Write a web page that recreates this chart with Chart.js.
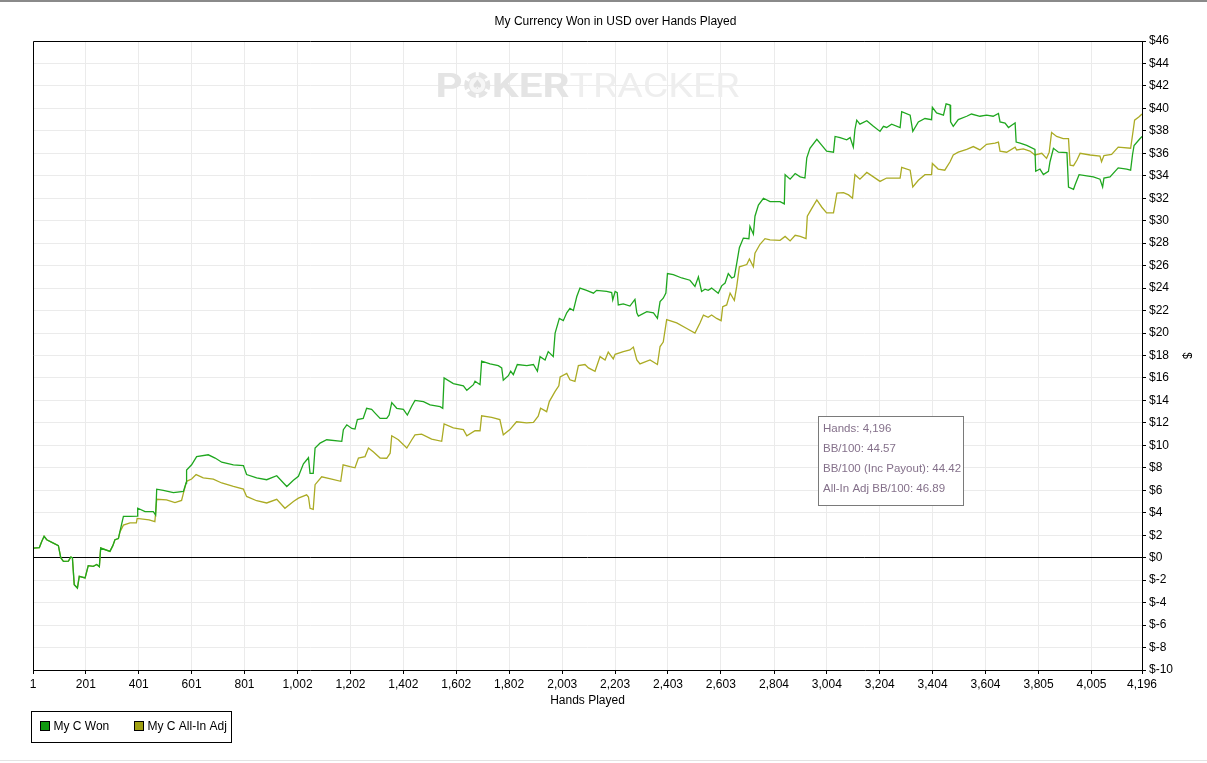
<!DOCTYPE html>
<html>
<head>
<meta charset="utf-8">
<title>My Currency Won in USD over Hands Played</title>
<script src="https://cdn.jsdelivr.net/npm/chart.js@4.4.1/dist/chart.umd.min.js"></script>
<style>
  html, body { margin: 0; padding: 0; background: #fff; }
  #wrap { width: 1207px; height: 763px; position: relative; }
</style>
</head>
<body>
<div id="wrap"><canvas id="graph"></canvas></div>
<script>
// Hands where the x axis is labelled
const handTicks = [1, 201, 401, 601, 801, 1002, 1202, 1402, 1602, 1802, 2003, 2203, 2403, 2603, 2804, 3004, 3204, 3404, 3604, 3805, 4005, 4196];

// y axis: dollars
const yMin = -10;
const yMax = 46;
const yStep = 2;

const seriesNames = ['My C Won', 'My C All-In Adj'];

// [hand, dollars]
const wonSeries = [
  [1, 0], [2, 0.86], [25, 0.9], [34, 1.45], [43, 1.9], [53, 1.6], [78, 1.3], [97, 1.07], [106, 0], [116, -0.33],
  [135, -0.3], [144, 0.06], [150, 0], [157, -2.4], [169, -2.7], [176, -1.66], [198, -1.8], [210, -0.71], [229, -0.77], [242, -0.6],
  [252, -0.8], [257, 0.86], [292, 0.56], [303, 1.07], [311, 1.6], [324, 1.7], [330, 2.34], [343, 3.68], [368, 3.68], [396, 3.7],
  [397, 4.4], [425, 4.1], [456, 4.1], [465, 3.8], [469, 6.1], [494, 6.0], [532, 5.8], [570, 5.9], [580, 6.65], [582, 7.8],
  [601, 8.27], [620, 9.0], [664, 9.16], [690, 8.87], [715, 8.5], [759, 8.27], [797, 8.2], [809, 7.4], [847, 7.1], [885, 6.94],
  [923, 7.3], [961, 6.34], [986, 6.9], [1005, 7.24], [1024, 8.36], [1043, 8.9], [1049, 7.5], [1061, 7.5], [1068, 9.76], [1087, 10.2],
  [1112, 10.5], [1169, 10.36], [1175, 11.4], [1188, 11.83], [1207, 11.5], [1219, 11.45], [1228, 12.3], [1250, 12.4], [1263, 13.3], [1282, 13.2],
  [1295, 12.87], [1314, 12.4], [1339, 12.4], [1348, 12.7], [1358, 13.8], [1377, 13.3], [1402, 13.2], [1417, 12.7], [1434, 13.5], [1446, 14.0],
  [1478, 13.9], [1503, 13.6], [1541, 13.45], [1551, 13.3], [1556, 16.0], [1591, 15.5], [1629, 15.3], [1642, 14.9], [1667, 15.4], [1673, 15.7],
  [1692, 15.4], [1698, 17.5], [1730, 17.26], [1761, 17.1], [1774, 16.9], [1780, 15.8], [1799, 16.2], [1808, 16.6], [1818, 16.3], [1833, 17.2],
  [1869, 17.1], [1894, 17.2], [1909, 16.6], [1919, 17.9], [1938, 17.6], [1950, 18.35], [1969, 17.9], [1976, 20.0], [1992, 21.3], [2007, 21.1],
  [2020, 21.8], [2032, 22.2], [2045, 22.0], [2058, 23.25], [2070, 24.0], [2095, 23.8], [2121, 23.55], [2133, 23.8], [2171, 23.7], [2190, 23.6],
  [2194, 22.95], [2203, 23.7], [2211, 23.6], [2215, 22.5], [2234, 22.6], [2259, 22.4], [2278, 23.0], [2285, 21.8], [2291, 21.5], [2323, 21.9],
  [2348, 21.8], [2363, 21.3], [2373, 22.8], [2385, 23.1], [2395, 23.55], [2401, 25.3], [2423, 25.2], [2455, 24.9], [2486, 24.7], [2505, 24.15],
  [2518, 25.0], [2530, 23.7], [2543, 23.9], [2555, 23.8], [2568, 24.0], [2593, 23.55], [2606, 24.2], [2619, 24.45], [2631, 25.3], [2644, 24.9],
  [2654, 25.0], [2663, 26.2], [2673, 27.6], [2688, 28.45], [2709, 28.4], [2713, 29.5], [2726, 28.8], [2732, 30.4], [2745, 31.4], [2764, 32.0],
  [2789, 31.7], [2827, 31.7], [2843, 31.5], [2846, 34.1], [2865, 33.7], [2884, 34.2], [2903, 33.9], [2921, 33.8], [2928, 35.6], [2940, 36.45],
  [2966, 37.25], [2985, 36.7], [3003, 36.2], [3029, 36.1], [3035, 37.5], [3054, 37.4], [3079, 37.2], [3092, 37.4], [3104, 36.55], [3110, 38.1],
  [3117, 38.95], [3129, 38.6], [3155, 38.9], [3180, 38.4], [3205, 37.95], [3218, 38.4], [3230, 38.3], [3249, 38.6], [3281, 38.3], [3287, 39.7],
  [3319, 39.4], [3329, 37.95], [3350, 38.8], [3375, 39.1], [3400, 39.0], [3403, 40.1], [3419, 39.6], [3445, 39.4], [3455, 40.4], [3470, 40.3],
  [3472, 38.8], [3482, 38.4], [3501, 39.0], [3533, 39.3], [3551, 39.5], [3583, 39.3], [3608, 39.4], [3633, 39.3], [3653, 39.55], [3659, 38.8],
  [3678, 38.7], [3691, 38.3], [3703, 38.5], [3716, 38.7], [3720, 37.0], [3735, 36.9], [3760, 36.7], [3791, 36.35], [3794, 34.4], [3810, 34.6],
  [3823, 34.1], [3842, 34.4], [3848, 35.25], [3861, 36.45], [3880, 36.1], [3912, 36.06], [3918, 33.0], [3937, 32.8], [3943, 33.2], [3958, 34.1],
  [3987, 34.0], [4012, 33.9], [4037, 33.7], [4047, 33.0], [4052, 33.8], [4075, 33.9], [4106, 34.7], [4138, 34.6], [4153, 34.5], [4160, 35.85],
  [4166, 36.7], [4188, 37.3], [4196, 37.5]
];

const adjSeries = [
  [1, 0], [2, 0.86], [25, 0.9], [34, 1.45], [43, 1.9], [53, 1.6], [78, 1.3], [97, 1.07], [106, 0], [116, -0.33],
  [135, -0.3], [144, 0.06], [150, 0], [157, -2.4], [169, -2.7], [176, -1.66], [198, -1.8], [210, -0.71], [229, -0.77], [242, -0.6],
  [252, -0.8], [257, 0.86], [292, 0.56], [303, 1.07], [311, 1.6], [324, 1.7], [330, 2.3], [343, 2.9], [368, 3.1], [392, 3.1],
  [395, 3.5], [440, 3.36], [462, 3.2], [469, 5.2], [506, 5.15], [538, 4.9], [563, 5.1], [570, 5.75], [582, 6.8], [601, 7.0],
  [618, 7.4], [645, 7.1], [683, 7.0], [715, 6.65], [759, 6.34], [797, 6.1], [809, 5.45], [847, 5.07], [885, 4.87], [923, 5.2],
  [954, 4.4], [986, 5.0], [1005, 5.3], [1036, 5.6], [1043, 5.4], [1049, 4.4], [1061, 4.3], [1068, 6.5], [1093, 7.2], [1131, 7.0],
  [1165, 6.8], [1174, 8.27], [1200, 8.1], [1219, 8.0], [1232, 8.87], [1257, 9.0], [1270, 9.76], [1289, 9.4], [1314, 8.87], [1339, 8.85],
  [1352, 9.3], [1358, 10.85], [1383, 10.5], [1415, 9.76], [1434, 10.5], [1446, 10.94], [1471, 11.0], [1509, 10.56], [1547, 10.36], [1556, 11.9],
  [1591, 11.55], [1629, 11.4], [1642, 10.85], [1673, 11.3], [1692, 11.3], [1698, 12.63], [1736, 12.5], [1767, 12.3], [1780, 10.94], [1805, 11.4],
  [1830, 12.1], [1868, 12.0], [1894, 12.05], [1912, 12.6], [1921, 13.3], [1944, 13.0], [1954, 13.9], [1976, 14.8], [1990, 15.3], [1995, 16.1],
  [2020, 16.4], [2032, 15.84], [2051, 15.7], [2064, 17.1], [2089, 17.2], [2102, 16.9], [2127, 16.6], [2146, 17.9], [2165, 17.6], [2177, 18.3],
  [2196, 17.7], [2203, 18.1], [2234, 18.35], [2259, 18.5], [2272, 18.75], [2285, 17.6], [2297, 17.25], [2335, 17.6], [2363, 17.2], [2373, 18.8],
  [2385, 19.2], [2398, 21.2], [2436, 20.9], [2474, 20.4], [2505, 20.0], [2524, 20.9], [2537, 21.6], [2555, 21.4], [2568, 21.6], [2587, 21.3],
  [2604, 21.1], [2610, 22.35], [2625, 22.5], [2638, 23.55], [2654, 22.9], [2663, 24.15], [2673, 25.9], [2701, 26.1], [2711, 26.6], [2726, 25.9],
  [2732, 27.1], [2751, 27.9], [2770, 28.4], [2789, 28.3], [2827, 28.25], [2846, 28.6], [2865, 28.2], [2884, 28.7], [2903, 28.6], [2925, 28.4],
  [2930, 30.4], [2947, 31.1], [2966, 31.85], [2985, 31.2], [3003, 30.7], [3029, 30.7], [3042, 32.45], [3067, 32.5], [3086, 32.3], [3101, 32.0],
  [3110, 34.1], [3129, 33.7], [3155, 34.3], [3180, 33.9], [3205, 33.5], [3230, 33.8], [3249, 33.8], [3281, 33.8], [3287, 34.75], [3319, 34.5],
  [3329, 33.0], [3350, 33.6], [3375, 34.1], [3400, 34.1], [3403, 35.1], [3425, 34.6], [3450, 34.5], [3470, 35.25], [3482, 35.85], [3501, 36.1],
  [3533, 36.35], [3558, 36.6], [3583, 36.3], [3608, 36.8], [3640, 36.9], [3653, 37.0], [3659, 36.2], [3684, 36.1], [3716, 36.55], [3722, 36.3],
  [3747, 36.4], [3772, 36.2], [3791, 35.85], [3817, 36.0], [3835, 35.55], [3845, 36.1], [3854, 37.85], [3873, 37.5], [3898, 37.3], [3918, 37.3],
  [3924, 34.95], [3937, 34.9], [3950, 35.4], [3962, 36.0], [4000, 35.85], [4037, 35.75], [4043, 35.25], [4052, 35.8], [4081, 35.9], [4106, 36.55],
  [4153, 36.45], [4163, 38.1], [4168, 38.95], [4185, 39.26], [4196, 39.5]
];

const statLines = ['Hands: 4,196', 'BB/100: 44.57', 'BB/100 (Inc Payout): 44.42', 'All-In Adj BB/100: 46.89'];

const FONT = '"Liberation Sans", Arial, sans-serif';
const wonColor = '#1fa71f';
const adjColor = '#abab24';

function toPoints(series) {
  return series.map(p => ({ x: p[0], y: p[1] }));
}

// title, watermark, frame, stats box and legend
const decorations = {
  id: 'decorations',
  beforeDatasetsDraw(chart) {
    const { ctx, chartArea: a } = chart;
    const mid = (a.left + a.right) / 2;
    const base = a.top + 56;
    ctx.save();
    ctx.textBaseline = 'alphabetic';
    ctx.font = 'bold 33px Roboto';
    const wP = ctx.measureText('P').width;
    const wO = ctx.measureText('O').width;
    const wPoker = ctx.measureText('POKER').width;
    ctx.font = '33px Roboto';
    const wTracker = ctx.measureText('TRACKER').width;
    const sx1 = 134 / wPoker;
    const sx2 = 170 / wTracker;
    const x0 = mid - 152;

    ctx.save();
    ctx.translate(x0, base);
    ctx.scale(sx1, 1);
    ctx.font = 'bold 33px Roboto';
    ctx.fillStyle = '#e4e4e4';
    ctx.fillText('P', 0, 0);
    ctx.fillText('KER', wP + wO, 0);
    ctx.restore();

    // chip in place of the O
    const cx = x0 + (wP + wO / 2) * sx1;
    const cy = base - 12;
    ctx.fillStyle = '#e4e4e4';
    ctx.beginPath();
    ctx.arc(cx, cy, 13, 0, Math.PI * 2);
    ctx.fill();
    ctx.strokeStyle = '#ffffff';
    ctx.lineWidth = 3;
    for (let i = 0; i < 6; i++) {
      const ang = i * Math.PI / 3 + Math.PI / 6;
      ctx.beginPath();
      ctx.moveTo(cx + Math.cos(ang) * 9, cy + Math.sin(ang) * 9);
      ctx.lineTo(cx + Math.cos(ang) * 14, cy + Math.sin(ang) * 14);
      ctx.stroke();
    }
    ctx.fillStyle = '#f6f6f6';
    ctx.beginPath();
    ctx.arc(cx, cy, 8, 0, Math.PI * 2);
    ctx.fill();
    ctx.fillStyle = '#dedede';
    ctx.font = '13px "DejaVu Sans"';
    ctx.textAlign = 'center';
    ctx.textBaseline = 'middle';
    ctx.fillText('\u2660', cx, cy + 1);

    ctx.save();
    ctx.translate(x0 + 134, base);
    ctx.scale(sx2, 1);
    ctx.font = '33px Roboto';
    ctx.fillStyle = '#eeeeee';
    ctx.textAlign = 'left';
    ctx.textBaseline = 'alphabetic';
    ctx.fillText('TRACKER', 0, 0);
    ctx.restore();
    ctx.restore();
  },
  afterDraw(chart) {
    const { ctx, chartArea: a, width, height } = chart;
    ctx.save();

    // window edges
    ctx.fillStyle = '#8a8a8a';
    ctx.fillRect(0, 0, width, 2);
    ctx.fillStyle = '#e3e3e3';
    ctx.fillRect(0, height - 3, width, 1);

    // frame on the open sides
    ctx.strokeStyle = '#000';
    ctx.lineWidth = 1;
    ctx.beginPath();
    ctx.moveTo(Math.round(a.left) + 0.5, Math.round(a.bottom));
    ctx.lineTo(Math.round(a.left) + 0.5, Math.round(a.top) + 0.5);
    ctx.lineTo(Math.round(a.right), Math.round(a.top) + 0.5);
    ctx.stroke();

    // title
    ctx.fillStyle = '#000';
    ctx.font = '12px ' + FONT;
    ctx.textAlign = 'center';
    ctx.textBaseline = 'middle';
    ctx.fillText('My Currency Won in USD over Hands Played', width / 2 + 12, 22);

    // stats box
    const bx = a.left + 785.5, by = a.top + 375.5;
    ctx.fillStyle = '#ffffff';
    ctx.fillRect(bx, by, 145, 89);
    ctx.strokeStyle = '#7a7a7a';
    ctx.strokeRect(bx, by, 145, 89);
    ctx.fillStyle = '#84708a';
    ctx.font = '11.5px ' + FONT;
    ctx.textAlign = 'left';
    statLines.forEach((t, i) => ctx.fillText(t, bx + 4.5, by + 12.5 + i * 20));

    // legend
    const lx = 31.5, ly = a.bottom + 41.5;
    ctx.strokeStyle = '#000';
    ctx.strokeRect(lx, ly, 200, 31);
    const items = [[seriesNames[0], '#109a10', 9], [seriesNames[1], '#a0a012', 103]];
    ctx.font = '12px ' + FONT;
    items.forEach(([name, col, off]) => {
      ctx.fillStyle = col;
      ctx.fillRect(lx + off, ly + 10, 9, 9);
      ctx.strokeStyle = '#000';
      ctx.strokeRect(lx + off, ly + 10, 9, 9);
      ctx.fillStyle = '#000';
      ctx.fillText(name, lx + off + 13, ly + 15);
    });
    ctx.restore();
  }
};

new Chart(document.getElementById('graph'), {
  type: 'line',
  data: {
    datasets: [
      { label: seriesNames[0], data: toPoints(wonSeries), borderColor: wonColor, borderWidth: 1.3, pointRadius: 0, tension: 0, fill: false },
      { label: seriesNames[1], data: toPoints(adjSeries), borderColor: adjColor, borderWidth: 1.3, pointRadius: 0, tension: 0, fill: false }
    ]
  },
  options: {
    responsive: true,
    maintainAspectRatio: false,
    animation: false,
    events: [],
    layout: { padding: { top: 41, left: 33, right: 0, bottom: 53 } },
    plugins: { legend: { display: false }, title: { display: false }, tooltip: { enabled: false } },
    scales: {
      x: {
        type: 'linear',
        min: handTicks[0],
        max: handTicks[handTicks.length - 1],
        afterBuildTicks: scale => { scale.ticks = handTicks.map(v => ({ value: v })); },
        afterFit: scale => { scale.height = 40; },
        ticks: {
          autoSkip: false, maxRotation: 0, color: '#000', padding: 3,
          font: { family: FONT, size: 12 },
          callback: v => v.toLocaleString('en-US')
        },
        grid: { color: '#ebebeb', tickColor: '#000', tickLength: 4, lineWidth: 1 },
        border: { display: true, color: '#000' },
        title: { display: true, text: 'Hands Played', color: '#000', font: { family: FONT, size: 12 }, padding: { top: 0, bottom: 2 } }
      },
      y: {
        position: 'right',
        min: yMin,
        max: yMax,
        afterFit: scale => { scale.width = 65; },
        ticks: {
          stepSize: yStep, color: '#000', padding: 3,
          font: { family: FONT, size: 12 },
          callback: v => '$' + v
        },
        grid: {
          color: c => (c.tick && c.tick.value === 0 ? '#000' : '#ebebeb'),
          tickColor: '#000', tickLength: 4, lineWidth: 1
        },
        border: { display: true, color: '#000' },
        title: { display: true, text: '$', color: '#000', font: { family: FONT, size: 12 }, padding: { top: 13 } }
      }
    }
  },
  plugins: [decorations]
});
</script>
</body>
</html>
